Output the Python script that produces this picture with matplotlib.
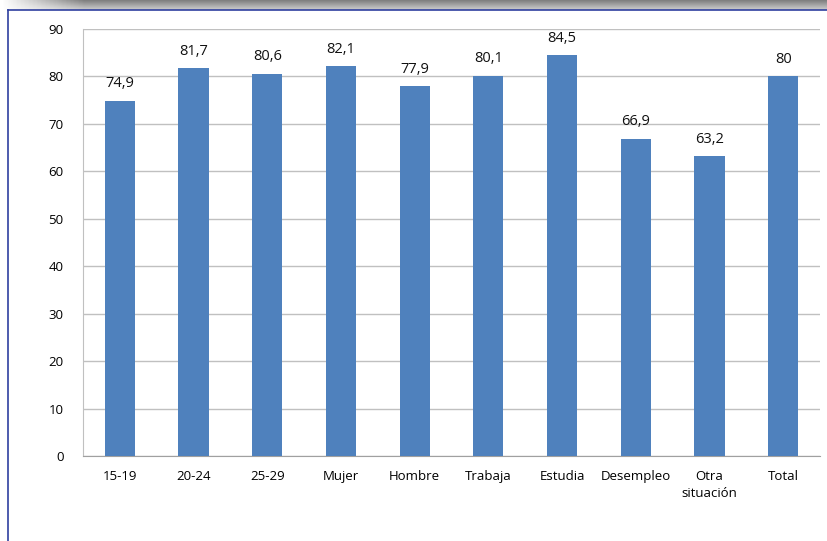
import numpy as np
import matplotlib
matplotlib.use("Agg")
import matplotlib.pyplot as plt

categories = ["15-19", "20-24", "25-29", "Mujer", "Hombre", "Trabaja",
              "Estudia", "Desempleo", "Otra\nsituación", "Total"]
values = [74.9, 81.7, 80.6, 82.1, 77.9, 80.1, 84.5, 66.9, 63.2, 80]
value_labels = ["74,9", "81,7", "80,6", "82,1", "77,9", "80,1", "84,5", "66,9", "63,2", "80"]
yticks = [0, 10, 20, 30, 40, 50, 60, 70, 80, 90]

plt.rcParams["font.family"] = ["Open Sans", "DejaVu Sans"]

fig = plt.figure(figsize=(8.27, 5.41), dpi=100)

# grey shadow band at the top of the frame
grad = np.linspace(0.5, 0.8, 12).reshape(-1, 1) * np.ones((1, 200))
fade = np.clip(np.linspace(0, 1, 200) * 10, 0, 1)
img = np.ones((12, 200, 4))
img[..., 0] = img[..., 1] = img[..., 2] = grad
img[..., 3] = fade
bg = fig.add_axes([0, 1 - 10 / 541, 1, 10 / 541])
bg.imshow(img, aspect="auto", extent=[0, 1, 0, 1])
bg.axis("off")

# blue frame lines
fig.add_artist(plt.Line2D([8 / 827, 8 / 827], [0, 1 - 10 / 541], color="#2f3f9f", lw=1.2))
fig.add_artist(plt.Line2D([8 / 827, 1], [1 - 10 / 541, 1 - 10 / 541], color="#2f3f9f", lw=1.2))

ax = fig.add_axes([83 / 827, 1 - 456 / 541, 737 / 827, 427 / 541])
x = np.arange(len(categories))
bars = ax.bar(x, values, width=0.41, color="#4f81bd", zorder=3)
for b, lab in zip(bars, value_labels):
    ax.text(b.get_x() + b.get_width() / 2, b.get_height() + 2.0, lab,
            ha="center", va="bottom", fontsize=10.5, color="#111111")

ax.set_ylim(0, 90)
ax.set_xlim(-0.5, len(categories) - 0.5)
ax.set_yticks(yticks)
ax.set_xticks(x)
ax.set_xticklabels(categories, fontsize=9.5, linespacing=1.4, va="top")
ax.tick_params(axis="y", labelsize=9.5, length=0, pad=14)
ax.tick_params(axis="x", length=0, pad=10)
ax.yaxis.grid(True, color="#c0c0c0", lw=1, zorder=0)
for s in ["top", "right"]:
    ax.spines[s].set_visible(False)
ax.spines["left"].set_color("#c0c0c0")
ax.spines["bottom"].set_color("#a0a0a0")

fig.savefig("out.png", dpi=100)
